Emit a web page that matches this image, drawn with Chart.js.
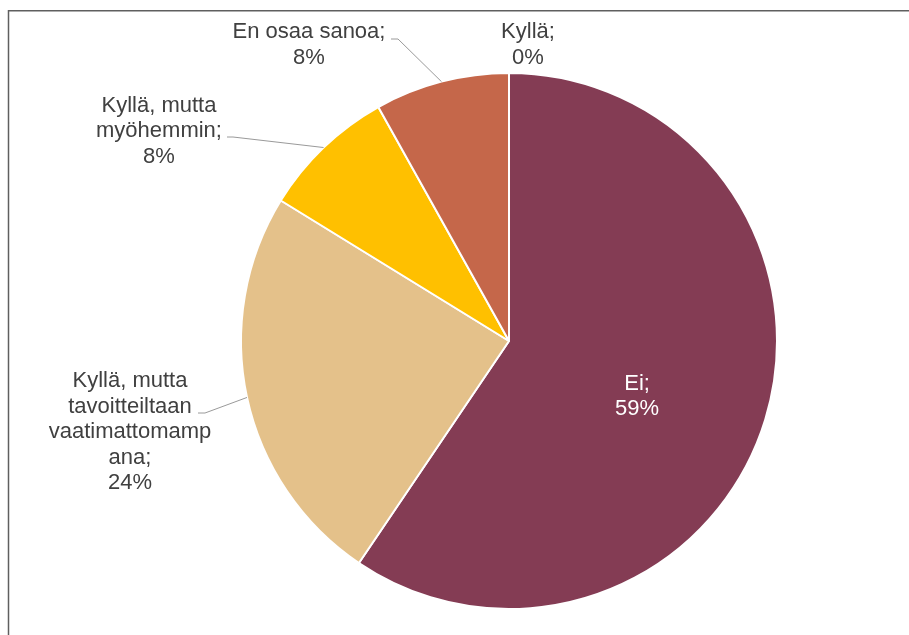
<!DOCTYPE html>
<html>
<head>
<meta charset="utf-8">
<script src="https://cdn.jsdelivr.net/npm/chart.js@4"></script>
<style>
  html, body { margin: 0; padding: 0; background: #fff; }
  #wrap { width: 909px; height: 635px; position: relative; }
</style>
</head>
<body>
<div id="wrap"><canvas id="pieChart" width="909" height="635"></canvas></div>
<script>
// data
const categories = ['Ei', 'Kyllä, mutta tavoitteiltaan vaatimattomampana', 'Kyllä, mutta myöhemmin', 'En osaa sanoa', 'Kyllä'];
const counts = [22, 9, 3, 3, 0];
const colors = ['#843C54', '#E4C18A', '#FFC000', '#C5674A', '#8C8C8C'];

// how each label is wrapped (text lines before the percentage)
const labelLines = [
    ['Ei;'],
    ['Kyllä, mutta', 'tavoitteiltaan', 'vaatimattomamp', 'ana;'],
    ['Kyllä, mutta', 'myöhemmin;'],
    ['En osaa sanoa;'],
    ['Kyllä;']
];

const total = counts.reduce((a, b) => a + b, 0);

// label placement: text block centre, and leader line start (null = no leader)
const labelPlace = [
    { inside: true, dy: 16 },
    { x: 130, y: 432, from: [198, 413], knee: [205, 413] },
    { x: 159, y: 131, from: [227, 137], knee: [233, 137] },
    { x: 309, y: 45, from: [391, 39], knee: [398, 39] },
    { x: 528, y: 45, from: null }
];

const frame = {
    id: 'frame',
    beforeDraw(chart) {
        const c = chart.ctx;
        c.save();
        c.fillStyle = '#fff';
        c.fillRect(0, 0, chart.width, chart.height);
        c.strokeStyle = '#5f5f5f';
        c.lineWidth = 1.5;
        c.strokeRect(8.5, 10.75, 1200, 1200);
        c.restore();
    }
};

const pieLabels = {
    id: 'pieLabels',
    afterDatasetsDraw(chart) {
        const c = chart.ctx;
        const arcs = chart.getDatasetMeta(0).data;
        const lh = 25.5;
        c.save();
        c.font = '22px "Liberation Sans", Arial, sans-serif';
        c.textAlign = 'center';
        c.textBaseline = 'middle';
        arcs.forEach((arc, i) => {
            const pct = Math.round(counts[i] / total * 100) + '%';
            const lines = labelLines[i].concat([pct]);
            const p = labelPlace[i];
            let cx, cy;
            if (p.inside) {
                const tp = arc.tooltipPosition();
                cx = tp.x;
                cy = tp.y + p.dy;
                c.fillStyle = '#ffffff';
            } else {
                cx = p.x;
                cy = p.y;
                c.fillStyle = '#404040';
                if (p.from) {
                    const mid = (arc.startAngle + arc.endAngle) / 2;
                    const ex = arc.x + arc.outerRadius * Math.cos(mid);
                    const ey = arc.y + arc.outerRadius * Math.sin(mid);
                    c.save();
                    c.strokeStyle = '#9a9a9a';
                    c.lineWidth = 1;
                    c.beginPath();
                    c.moveTo(p.from[0], p.from[1]);
                    c.lineTo(p.knee[0], p.knee[1]);
                    c.lineTo(ex, ey);
                    c.stroke();
                    c.restore();
                }
            }
            const top = cy - (lines.length - 1) * lh / 2;
            lines.forEach((t, k) => c.fillText(t, cx, top + k * lh));
        });
        c.restore();
    }
};

const ctx = document.getElementById('pieChart').getContext('2d');
new Chart(ctx, {
    type: 'pie',
    data: {
        labels: categories,
        datasets: [{
            data: counts,
            backgroundColor: colors,
            borderColor: '#ffffff',
            borderWidth: 2
        }]
    },
    options: {
        responsive: false,
        animation: false,
        events: [],
        layout: { padding: { top: 72, bottom: 25, left: 150, right: 41 } },
        plugins: {
            legend: { display: false },
            tooltip: { enabled: false }
        }
    },
    plugins: [frame, pieLabels]
});
</script>
</body>
</html>
